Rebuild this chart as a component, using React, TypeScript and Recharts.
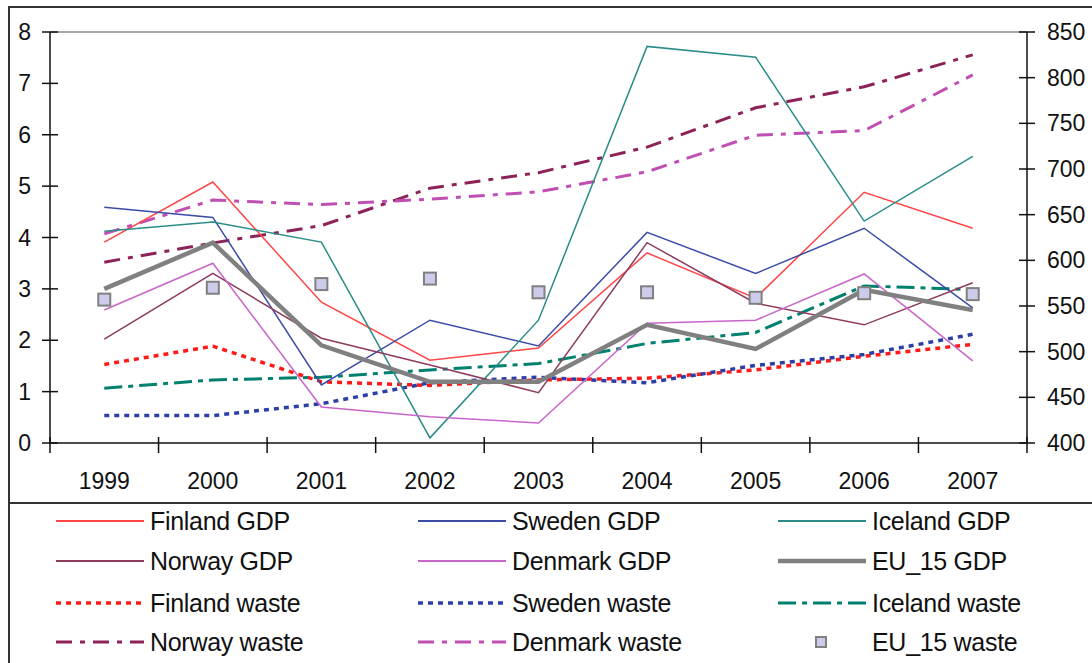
import React from "react";
import { ComposedChart, Line, XAxis, YAxis, ReferenceLine } from "recharts";

const years = ["1999", "2000", "2001", "2002", "2003", "2004", "2005", "2006", "2007"];

// GDP growth, % (left axis)
const finlandGdp = [3.91, 5.08, 2.74, 1.61, 1.85, 3.7, 2.82, 4.88, 4.18];
const swedenGdp = [4.59, 4.39, 1.13, 2.39, 1.89, 4.1, 3.3, 4.18, 2.63];
const icelandGdp = [4.12, 4.3, 3.91, 0.1, 2.39, 7.72, 7.51, 4.32, 5.58];
const norwayGdp = [2.02, 3.3, 2.04, 1.52, 0.98, 3.9, 2.72, 2.3, 3.12];
const denmarkGdp = [2.59, 3.5, 0.7, 0.51, 0.39, 2.33, 2.39, 3.29, 1.6];
const eu15Gdp = [3.0, 3.9, 1.9, 1.19, 1.19, 2.3, 1.83, 2.98, 2.59];

// municipal waste, kg per capita (right axis)
const finlandWaste = [486, 506, 467, 463, 469, 471, 480, 495, 508];
const swedenWaste = [430, 430, 443, 466, 472, 466, 485, 497, 519];
const icelandWaste = [460, 469, 472, 480, 487, 509, 521, 572, 568];
const norwayWaste = [598, 619, 638, 679, 696, 724, 767, 790, 825];
const denmarkWaste = [629, 666, 661, 667, 675, 697, 737, 742, 803];
const eu15Waste = [557, 570, 574, 580, 565, 565, 559, 564, 563];

const gdpTicks = [0, 1, 2, 3, 4, 5, 6, 7, 8];
const wasteTicks = [400, 450, 500, 550, 600, 650, 700, 750, 800, 850];

const data = years.map((year, i) => ({
  year,
  finlandGdp: finlandGdp[i],
  swedenGdp: swedenGdp[i],
  icelandGdp: icelandGdp[i],
  norwayGdp: norwayGdp[i],
  denmarkGdp: denmarkGdp[i],
  eu15Gdp: eu15Gdp[i],
  finlandWaste: finlandWaste[i],
  swedenWaste: swedenWaste[i],
  icelandWaste: icelandWaste[i],
  norwayWaste: norwayWaste[i],
  denmarkWaste: denmarkWaste[i],
  eu15Waste: eu15Waste[i],
}));

type Series = {
  key: string;
  name: string;
  axis: "gdp" | "waste";
  color: string;
  width: number;
  dash?: string;
  marker?: boolean;
};

const series: Series[] = [
  { key: "finlandGdp", name: "Finland GDP", axis: "gdp", color: "#ff4545", width: 1.5 },
  { key: "swedenGdp", name: "Sweden GDP", axis: "gdp", color: "#3b4ba8", width: 1.5 },
  { key: "icelandGdp", name: "Iceland GDP", axis: "gdp", color: "#2a8c88", width: 1.5 },
  { key: "norwayGdp", name: "Norway GDP", axis: "gdp", color: "#8e3a5e", width: 1.5 },
  { key: "denmarkGdp", name: "Denmark GDP", axis: "gdp", color: "#c865c8", width: 1.5 },
  { key: "eu15Gdp", name: "EU_15 GDP", axis: "gdp", color: "#808080", width: 4.5 },
  { key: "finlandWaste", name: "Finland waste", axis: "waste", color: "#ff1a1a", width: 3.5, dash: "5 5" },
  { key: "swedenWaste", name: "Sweden waste", axis: "waste", color: "#2b3fa6", width: 3.5, dash: "5 5" },
  { key: "icelandWaste", name: "Iceland waste", axis: "waste", color: "#00806e", width: 3, dash: "18 6 5 6" },
  { key: "norwayWaste", name: "Norway waste", axis: "waste", color: "#8c2257", width: 3, dash: "16 8 5 8" },
  { key: "denmarkWaste", name: "Denmark waste", axis: "waste", color: "#c04fb4", width: 3, dash: "16 8 5 8" },
  { key: "eu15Waste", name: "EU_15 waste", axis: "waste", color: "#808080", width: 0, marker: true },
];

const CHART_W = 1092;
const CHART_H = 500;
const LEFT_W = 50;
const RIGHT_W = 65;
const BAND = (CHART_W - LEFT_W - RIGHT_W) / years.length;
const FONT = "'Liberation Sans', Arial, sans-serif";

const LeftTick = (props: any) => {
  const { x, y, payload } = props;
  return (
    <g>
      <line x1={x - 8} x2={x + 8} y1={y} y2={y} stroke="#111" strokeWidth={1.5} />
      <text x={x - 19} y={y + 8} textAnchor="end" fontSize={23} fontFamily={FONT} fill="#111">
        {payload.value}
      </text>
    </g>
  );
};

const RightTick = (props: any) => {
  const { x, y, payload } = props;
  return (
    <g>
      <line x1={x - 8} x2={x + 8} y1={y} y2={y} stroke="#111" strokeWidth={1.5} />
      <text x={x + 20} y={y + 8} textAnchor="start" fontSize={23} fontFamily={FONT} fill="#111">
        {payload.value}
      </text>
    </g>
  );
};

// year label centred in its band, tick marks on the band edges
const YearTick = (props: any) => {
  const { x, y, payload, index } = props;
  const last = index === years.length - 1;
  return (
    <g>
      <line x1={x - BAND / 2} x2={x - BAND / 2} y1={y - 6} y2={y + 10} stroke="#111" strokeWidth={1.5} />
      {last && (
        <line x1={x + BAND / 2} x2={x + BAND / 2} y1={y - 6} y2={y + 10} stroke="#111" strokeWidth={1.5} />
      )}
      <text x={x} y={y + 46} textAnchor="middle" fontSize={23} fontFamily={FONT} fill="#111">
        {payload.value}
      </text>
    </g>
  );
};

const SquareDot = (props: any) => {
  const { cx, cy, index } = props;
  if (cx == null || cy == null) return <g key={index} />;
  return (
    <rect
      key={index}
      x={cx - 6}
      y={cy - 6}
      width={12}
      height={12}
      fill="#ccccea"
      stroke="#808080"
      strokeWidth={2}
    />
  );
};

const Swatch = ({ s }: { s: Series }) => (
  <svg width={92} height={14} style={{ display: "block" }}>
    {s.marker ? (
      <rect x={40} y={2} width={10} height={10} fill="#ccccea" stroke="#808080" strokeWidth={2} />
    ) : (
      <line x1={2} x2={90} y1={7} y2={7} stroke={s.color} strokeWidth={Math.max(s.width, 2)} strokeDasharray={s.dash} />
    )}
  </svg>
);

function Legend() {
  const colX = [54, 416, 776];
  const rowY = [521, 561, 603, 642];
  return (
    <>
      {series.map((s, i) => (
        <div
          key={s.key}
          style={{
            position: "absolute",
            left: colX[i % 3],
            top: rowY[Math.floor(i / 3)] - 15,
            height: 30,
            display: "flex",
            alignItems: "center",
            fontFamily: FONT,
            fontSize: 25,
            color: "#111",
            letterSpacing: -0.3,
            whiteSpace: "nowrap",
          }}
        >
          <Swatch s={s} />
          <span style={{ marginLeft: 4 }}>{s.name}</span>
        </div>
      ))}
    </>
  );
}

export default function App() {
  const lines = series.filter((s) => !s.marker);
  const waste = lines.filter((s) => s.axis === "waste");
  const gdp = lines.filter((s) => s.axis === "gdp" && s.key !== "eu15Gdp");
  const eu = lines.filter((s) => s.key === "eu15Gdp");
  const ordered = [...waste, ...gdp, ...eu];

  return (
    <div style={{ position: "absolute", left: 0, top: 0, width: 1092, height: 663, background: "#fff", overflow: "hidden" }}>
      {/* outer frame and legend separator */}
      <div style={{ position: "absolute", left: 8, top: 6, width: 1084, height: 2, background: "#333" }} />
      <div style={{ position: "absolute", left: 8, top: 6, width: 2, height: 657, background: "#333" }} />
      <div style={{ position: "absolute", left: 8, top: 502, width: 1084, height: 2, background: "#333" }} />

      <div style={{ position: "absolute", left: 0, top: 0 }}>
        <ComposedChart width={CHART_W} height={CHART_H} data={data} margin={{ top: 32, right: 0, bottom: 0, left: 0 }}>
          <XAxis
            dataKey="year"
            scale="band"
            height={57}
            tickSize={0}
            tickMargin={0}
            tickLine={false}
            axisLine={{ stroke: "#111", strokeWidth: 1.5 }}
            tick={<YearTick />}
            interval={0}
          />
          <YAxis
            yAxisId="gdp"
            orientation="left"
            width={LEFT_W}
            domain={[0, 8]}
            ticks={gdpTicks}
            tickSize={0}
            tickMargin={0}
            tickLine={false}
            axisLine={{ stroke: "#111", strokeWidth: 1.5 }}
            tick={<LeftTick />}
            interval={0}
          />
          <YAxis
            yAxisId="waste"
            orientation="right"
            width={RIGHT_W}
            domain={[400, 850]}
            ticks={wasteTicks}
            tickSize={0}
            tickMargin={0}
            tickLine={false}
            axisLine={{ stroke: "#111", strokeWidth: 1.5 }}
            tick={<RightTick />}
            interval={0}
          />
          <ReferenceLine yAxisId="gdp" y={8} stroke="#888" strokeWidth={1.5} />
          {ordered.map((s) => (
            <Line
              key={s.key}
              yAxisId={s.axis}
              dataKey={s.key}
              name={s.name}
              type="linear"
              stroke={s.color}
              strokeWidth={s.width}
              strokeDasharray={s.dash}
              dot={false}
              activeDot={false}
              isAnimationActive={false}
            />
          ))}
          <Line
            yAxisId="waste"
            dataKey="eu15Waste"
            name="EU_15 waste"
            stroke="none"
            strokeWidth={0}
            dot={<SquareDot />}
            activeDot={false}
            isAnimationActive={false}
          />
        </ComposedChart>
      </div>
      <Legend />
    </div>
  );
}
